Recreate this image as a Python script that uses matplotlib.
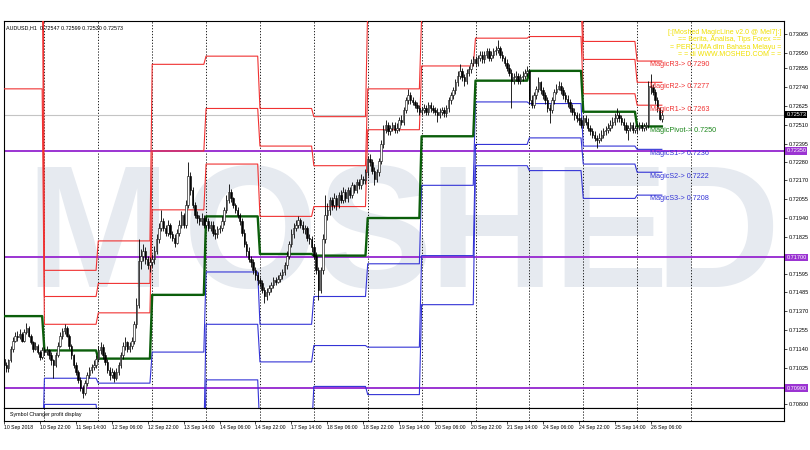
import matplotlib
matplotlib.use("Agg")
import matplotlib.pyplot as plt
from matplotlib.transforms import blended_transform_factory
import numpy as np

plt.rcParams['font.family'] = ['Liberation Sans', 'DejaVu Sans']

# AUDUSD H1, first bar = 10 Sep 2018 06:00, weekends skipped
# candle prices in pips above 0.7000
BASE = 0.70
PIP = 0.0001
first_open = 108
closes = [
    104, 102, 107, 114, 119, 122, 121, 123, 119, 124, 127, 122, 118, 114, 116, 112, 109, 113,
    112, 113, 110, 107, 104, 110, 116, 122, 125, 127, 122, 116, 110, 104, 100, 95, 90, 87, 93, 98, 101, 103, 104, 108,
    113, 115, 110, 106, 101, 98, 100, 96, 100, 104, 110, 116, 118, 114, 116, 119, 129, 141, 168, 171, 174, 169, 165, 167,
    169, 174, 181, 188, 192, 188, 185, 190, 184, 182, 179, 185, 190, 196, 190, 202, 220, 211, 202, 196, 194, 192, 194, 190,
    192, 188, 190, 185, 184, 187, 188, 192, 199, 205, 210, 206, 202, 199, 196, 192, 185, 178, 174, 169, 167, 162, 159, 156,
    154, 150, 146, 149, 151, 153, 156, 155, 157, 159, 161, 165, 171, 178, 184, 188, 190, 193, 190, 187, 188, 182, 181, 176,
    171, 162, 150, 162, 181, 196, 199, 205, 202, 206, 202, 208, 205, 210, 206, 211, 208, 214, 211, 216, 214, 218, 217, 222,
    230, 228, 223, 218, 222, 229, 239, 248, 251, 247, 249, 251, 248, 249, 254, 253, 260, 266, 269, 266, 265, 263, 261, 259,
    260, 261, 259, 263, 261, 260, 259, 257, 259, 260, 258, 261, 266, 269, 272, 277, 281, 284, 280, 278, 283, 285, 289, 291,
    289, 292, 294, 291, 294, 296, 292, 294, 296, 297, 298, 294, 292, 289, 286, 283, 278, 280, 281, 278, 280, 281, 283, 284,
    266, 263, 269, 273, 277, 272, 269, 266, 261, 260, 266, 271, 273, 275, 272, 269, 267, 265, 261, 259, 257, 255, 254, 251,
    255, 253, 249, 247, 245, 243, 242, 243, 245, 247, 248, 249, 251, 253, 255, 257, 255, 253, 251, 248, 249, 251, 248, 249,
    249, 251, 249, 250, 251, 275, 274, 271, 266, 261, 254.7, 257.3,
]
highs = [
    110, 106, 108, 116, 121, 124, 125, 126, 124, 126, 130, 128, 123, 119, 118, 117, 113, 115,
    115, 116, 114, 112, 108, 112, 118, 124, 127, 129, 128, 123, 117, 111, 106, 101, 97, 92, 95, 100, 103, 105, 107, 110,
    116, 118, 117, 112, 108, 103, 102, 101, 102, 106, 112, 118, 121, 119, 118, 121, 131, 145, 181, 175, 178, 176, 171, 170,
    172, 177, 184, 191, 199, 194, 190, 193, 191, 186, 184, 187, 193, 198, 197, 205, 228, 222, 213, 204, 198, 196, 197, 196,
    195, 194, 192, 192, 187, 189, 190, 195, 201, 208, 215, 212, 207, 203, 201, 197, 194, 187, 180, 176, 171, 169, 164, 161,
    158, 156, 152, 151, 153, 155, 158, 158, 159, 161, 163, 167, 174, 180, 187, 191, 193, 195, 194, 192, 190, 189, 184, 183,
    178, 173, 164, 164, 184, 208, 203, 207, 207, 209, 208, 210, 211, 213, 212, 213, 213, 216, 215, 218, 218, 221, 220, 224,
    232, 233, 230, 225, 224, 231, 242, 251, 254, 253, 251, 253, 253, 252, 256, 257, 262, 268, 273, 271, 268, 266, 265, 263,
    262, 264, 263, 265, 265, 263, 262, 261, 261, 262, 262, 263, 268, 271, 274, 279, 284, 288, 286, 282, 285, 287, 291, 293,
    293, 294, 296, 296, 296, 298, 298, 296, 298, 299, 303, 299, 296, 293, 291, 288, 285, 283, 284, 283, 282, 284, 285, 287,
    285, 269, 271, 275, 280, 278, 274, 271, 268, 264, 268, 273, 276, 278, 277, 274, 271, 269, 267, 264, 261, 259, 258, 256,
    257, 257, 255, 251, 249, 247, 245, 246, 248, 249, 250, 252, 254, 256, 258, 261, 259, 257, 255, 253, 251, 253, 253, 251,
    252, 253, 253, 252, 253, 278, 282, 276, 273, 268, 262, 259.9,
]
lows = [
    103, 100, 100, 106, 112, 118, 119, 120, 118, 118, 123, 121, 117, 112, 113, 111, 107, 108,
    110, 110, 108, 104, 96, 103, 109, 115, 120, 123, 121, 114, 108, 102, 98, 93, 88, 84, 86, 91, 96, 99, 101, 102,
    106, 111, 108, 104, 99, 95, 96, 94, 95, 98, 102, 108, 113, 112, 112, 114, 117, 127, 139, 163, 168, 166, 163, 161,
    164, 166, 172, 179, 186, 186, 183, 183, 182, 180, 176, 178, 183, 188, 188, 188, 200, 208, 200, 194, 191, 190, 190, 188,
    188, 186, 186, 183, 181, 182, 185, 186, 190, 197, 203, 204, 200, 197, 194, 190, 183, 176, 171, 167, 164, 160, 156, 153,
    152, 148, 142, 144, 147, 149, 151, 153, 154, 155, 157, 159, 163, 169, 176, 182, 186, 188, 188, 185, 184, 180, 178, 173,
    169, 160, 144, 148, 160, 179, 193, 196, 199, 200, 199, 200, 203, 203, 204, 204, 206, 206, 209, 209, 212, 212, 215, 215,
    220, 226, 221, 214, 216, 220, 227, 237, 246, 245, 245, 247, 246, 246, 247, 251, 251, 258, 264, 264, 263, 261, 259, 257,
    257, 258, 257, 257, 259, 258, 257, 253, 255, 257, 256, 256, 259, 264, 267, 270, 275, 279, 278, 275, 276, 281, 283, 287,
    287, 287, 290, 289, 289, 292, 290, 290, 292, 294, 295, 292, 290, 287, 284, 281, 261, 276, 278, 276, 276, 278, 279, 281,
    264, 261, 261, 267, 271, 270, 267, 264, 259, 252, 258, 264, 270, 272, 270, 267, 265, 262, 259, 257, 254, 253, 251, 249,
    249, 251, 247, 245, 243, 241, 237, 240, 241, 243, 245, 246, 247, 249, 251, 253, 253, 251, 248, 246, 242, 247, 246, 246,
    246, 248, 247, 247, 248, 249, 270, 269, 264, 259, 254, 253.0,
]

# daily MagicLine levels (10 Sep ... 26 Sep)
day_start = [0, 18, 42, 66, 90, 114, 138, 162, 186, 210, 234, 258, 282]
r3 = [0.7502, 0.7162, 0.7180, 0.7288, 0.7293, 0.7261, 0.7256, 0.7324, 0.7360, 0.7343, 0.7346, 0.7302, 0.7290]
r2 = [0.7363, 0.7146, 0.7154, 0.7235, 0.7261, 0.7238, 0.7226, 0.7273, 0.7317, 0.7317, 0.7325, 0.7291, 0.7277]
r1 = [0.7273, 0.7129, 0.7136, 0.7199, 0.7227, 0.7195, 0.7201, 0.7248, 0.7287, 0.7304, 0.7305, 0.7270, 0.7263]
pivot = [0.7134, 0.7113, 0.7108, 0.7147, 0.7195, 0.7172, 0.7171, 0.7194, 0.7244, 0.7278, 0.7284, 0.7259, 0.7250]
s1 = [0.7044, 0.7096, 0.7093, 0.7112, 0.7161, 0.7129, 0.7146, 0.7166, 0.7214, 0.7265, 0.7264, 0.7238, 0.7236]
s2 = [0.6905, 0.7080, 0.7067, 0.7059, 0.7129, 0.7106, 0.7116, 0.7115, 0.7171, 0.7239, 0.7243, 0.7227, 0.7222]
s3 = [0.6815, 0.7063, 0.7049, 0.7024, 0.7095, 0.7063, 0.7091, 0.7086, 0.7141, 0.7226, 0.7223, 0.7206, 0.7208]

separators = [18, 42, 66, 90, 114, 138, 162, 186, 210, 234, 258, 282, 306]
xtick_pos = list(range(0, 289, 16))
xtick_labels = ['10 Sep 2018', '10 Sep 22:00', '11 Sep 14:00', '12 Sep 06:00', '12 Sep 22:00',
                '13 Sep 14:00', '14 Sep 06:00', '14 Sep 22:00', '17 Sep 14:00', '18 Sep 06:00',
                '18 Sep 22:00', '19 Sep 14:00', '20 Sep 06:00', '20 Sep 22:00', '21 Sep 14:00',
                '24 Sep 06:00', '24 Sep 22:00', '25 Sep 14:00', '26 Sep 06:00']
price_ticks = [0.73065, 0.72950, 0.72855, 0.72740, 0.72625, 0.72510, 0.72395, 0.72280, 0.72170,
               0.72055, 0.71940, 0.71825, 0.71595, 0.71485, 0.71370, 0.71255, 0.71140, 0.71025, 0.70800]
hlines = [0.72350, 0.71700, 0.70900]
bid = 0.72573
title = 'AUDUSD,H1  0.72547 0.72599 0.72530 0.72573'
info_lines = ['[:[Moshed MagicLine v2.0 @ Mel7]:]', '== Berita, Analisa, Tips Forex ==',
              '= PERCUMA dlm Bahasa Melayu =', '= = di WWW.MOSHED.COM = =']
watermark = ['M', 'O', 'S', 'H', 'E', 'D']
watermark_px = [25, 183, 317, 428, 552, 654]   # left edge of each letter, pixels

RED = '#f03232'
BLUE = '#3434d6'
GREEN = '#0b5e0b'
PURPLE = '#9b34d2'

c = BASE + np.array(closes) * PIP
h = BASE + np.array(highs) * PIP
l = BASE + np.array(lows) * PIP
o = np.r_[BASE + first_open * PIP, c[:-1]]
x = np.arange(len(c))

fig = plt.figure(figsize=(8.1, 4.5), dpi=100)
ax = fig.add_axes([4 / 810, 1 - 408 / 450, 780 / 810, 387 / 450])
sub = fig.add_axes([4 / 810, 1 - 421 / 450, 780 / 810, 13 / 450])

ax.set_xlim(0, 347.4)
ax.set_ylim(0.70778, 0.73145)

# watermark letters
for ch, px in zip(watermark, watermark_px):
    ax.text((px - 4) / 780, 0.313, ch, transform=ax.transAxes, fontsize=125,
            fontweight='bold', color='#e6eaf0', ha='left', va='baseline', zorder=0)

for s in separators:
    ax.axvline(s, color='black', lw=0.6, ls=(0, (1.5, 2)), zorder=1)
    sub.axvline(s, color='black', lw=0.6, ls=(0, (1.5, 2)), zorder=1)

ax.axhline(bid, color='#c4c4c4', lw=0.8, zorder=1)
for v in hlines:
    ax.axhline(v, color=PURPLE, lw=1.4, zorder=2)

day_idx = np.searchsorted(day_start, x, side='right') - 1
for vals, col, lw in [(r3, RED, 0.8), (r2, RED, 0.8), (r1, RED, 0.8),
                      (s1, BLUE, 0.8), (s2, BLUE, 0.8), (s3, BLUE, 0.8),
                      (pivot, GREEN, 1.7)]:
    ax.plot(x, np.array(vals)[day_idx], color=col, lw=lw, zorder=3)

# candles
up = c >= o
ax.vlines(x, l, h, color='black', lw=0.6, zorder=4)
ax.bar(x[up], (c - o)[up], bottom=o[up], width=0.65, color='white',
       edgecolor='black', lw=0.4, zorder=5)
ax.bar(x[~up], (o - c)[~up], bottom=c[~up], width=0.65, color='black',
       edgecolor='black', lw=0.4, zorder=5)

# level labels for the last day
lx = 287.7
for name, vals, col in [('MagicR3', r3, RED), ('MagicR2', r2, RED), ('MagicR1', r1, RED),
                        ('MagicPivot', pivot, '#1a861a'), ('MagicS1', s1, BLUE),
                        ('MagicS2', s2, BLUE), ('MagicS3', s3, BLUE)]:
    ax.text(lx, vals[-1] - 0.00002, f'{name}-> {vals[-1]:.4f}', color=col,
            fontsize=5.2, va='top', ha='left', zorder=6)

# price axis
ax.yaxis.tick_right()
ax.set_yticks(price_ticks)
ax.set_yticklabels([f'{v:.5f}' for v in price_ticks])
ax.tick_params(axis='y', length=2, width=0.5, pad=1.5, labelsize=4)
ax.set_xticks([])
tr = blended_transform_factory(ax.transAxes, ax.transData)
ax.text(1.003, bid, f'{bid:.5f}', transform=tr, color='white', fontsize=4, va='center',
        ha='left', bbox=dict(boxstyle='square,pad=0.2', fc='black', ec='none'), zorder=7, clip_on=False)
for v in hlines:
    ax.text(1.003, v, f'{v:.5f}', transform=tr, color='white', fontsize=4, va='center',
            ha='left', bbox=dict(boxstyle='square,pad=0.2', fc=PURPLE, ec='none'), zorder=7, clip_on=False)

for sp in ax.spines.values():
    sp.set_linewidth(0.8)

fig.text(6 / 810, 1 - 28 / 450, title, fontsize=3.9, va='center', ha='left')
for i, line in enumerate(info_lines):
    fig.text(781 / 810, 1 - (32 + 7.6 * i) / 450, line, fontsize=5, color='#f0e000',
             ha='right', va='center')

# sub window
sub.set_xlim(ax.get_xlim())
sub.set_ylim(0, 1)
sub.set_yticks([])
sub.set_xticks(xtick_pos)
sub.set_xticklabels(xtick_labels, ha='left')
sub.tick_params(axis='x', length=2, width=0.5, pad=1, labelsize=3.7)
for sp in sub.spines.values():
    sp.set_linewidth(0.8)
sub.text(6 / 780, 0.5, 'Symbol Changer profit display', transform=sub.transAxes,
         fontsize=3.8, va='center', ha='left')

fig.savefig('out.png', dpi=100, facecolor='white')
